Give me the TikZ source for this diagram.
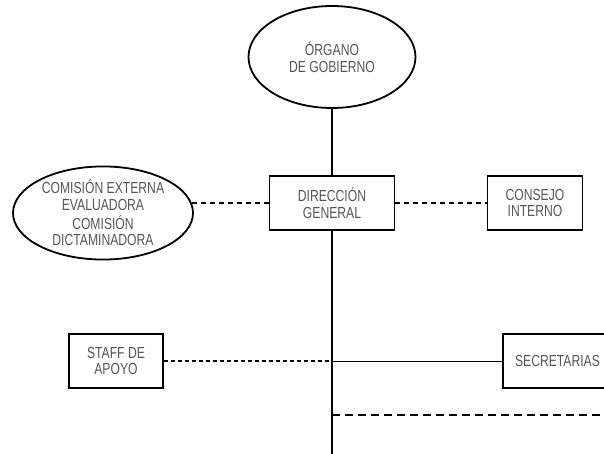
\documentclass[tikz,border=0pt]{standalone}
\usepackage{fontspec}
\setmainfont[FakeStretch=0.76]{Liberation Sans}
\usepackage{tikz}
\usetikzlibrary{shapes.geometric}
\definecolor{txtgray}{RGB}{85,85,85}
\tikzstyle{organo} = [ellipse, minimum width=167pt, minimum height=102pt, inner sep=0pt, text centered, align=center, draw=black, line width=1.8pt, text=txtgray]
\tikzstyle{comision} = [ellipse, minimum width=180pt, minimum height=90pt, inner sep=0pt, text centered, align=center, draw=black, line width=1.8pt, text=txtgray]
\tikzstyle{unidad} = [rectangle, minimum height=54pt, inner sep=0pt, text centered, align=center, draw=black, line width=1.6pt, text=txtgray]
\tikzstyle{linea} = [line width=1.2pt]
\tikzstyle{asesor} = [line width=1.4pt, dash pattern=on 5pt off 4pt]
\tikzstyle{apoyo} = [line width=2.3pt, dash pattern=on 4pt off 3pt]
\tikzstyle{futuro} = [line width=1.7pt, dash pattern=on 8pt off 5pt]

\begin{document}
\begin{tikzpicture}[node distance=146pt, font=\fontsize{16}{16.6}\selectfont]
		\clip (-332pt,57pt) rectangle (272pt,-397pt);
		\node (gov) [organo] {ÓRGANO\\DE GOBIERNO};
		
		\node (dir) [unidad, minimum width=125pt, below of=gov] {DIRECCIÓN\\GENERAL};
		\node (cons) [unidad, minimum width=95pt, right of=dir, xshift=57pt] {CONSEJO\\INTERNO};
		\node (com) [comision, left of=dir, xshift=-83pt, yshift=-10pt] {COMISIÓN EXTERNA\\EVALUADORA\\[2pt]COMISIÓN\\DICTAMINADORA};
		
		\node (staff) [unidad, minimum width=94pt, below of=dir, xshift=-216pt, yshift=-12pt] {STAFF DE\\APOYO};
		\node (secr) [unidad, minimum width=109pt, below of=dir, xshift=225.5pt, yshift=-12pt] {SECRETARIAS};
		
		\coordinate (junc) at (0pt,-304pt);
		\coordinate (dashL) at (0pt,-358pt);
		\coordinate (dashR) at (269pt,-358pt);
		\coordinate (fin) at (0pt,-398pt);
		
		\draw [linea] (gov) -- (dir);
		\draw [linea] (dir) -- (fin);
		\draw [asesor] (dir.west) -- (dir.west -| com.6.5);
		\draw [asesor] (dir) -- (cons);
		\draw [apoyo] (staff) -- (junc);
		\draw [line width=1pt] (junc) -- (secr);
		\draw [futuro] (dashL) -- (dashR);
		
\end{tikzpicture}
\end{document}
